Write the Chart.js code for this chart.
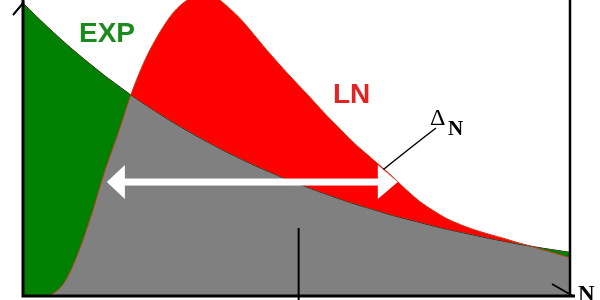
<!DOCTYPE html>
<html>
<head>
<meta charset="utf-8">
<script src="https://cdn.jsdelivr.net/npm/chart.js@4/dist/chart.umd.min.js"></script>
<style>
  body { margin: 0; background: #fff; }
  #grafico { display: block; }
</style>
</head>
<body>
<canvas id="grafico" width="600" height="300"></canvas>
<script>
// valores (x de 0 a 100, y de 0 a 100)
var posiciones = [0, 2.5, 5, 7.5, 10, 12.5, 15, 17.5, 20, 22.5, 25, 27.5, 30, 32.5, 35, 37.5, 40,
    42.5, 45, 47.5, 50, 52.5, 55, 57.5, 60, 62.5, 65, 67.5, 70, 72.5, 75, 77.5, 80,
    82.5, 85, 87.5, 90, 92.5, 95, 97.5, 100];

var valoresEXP = [99, 94.4, 90, 85.8, 81.8, 78, 74.3, 70.9, 67.5, 64.4, 61.4, 58.5, 55.8, 53.2, 50.7,
    48.3, 46.1, 43.9, 41.9, 39.9, 38.1, 36.3, 34.6, 33, 31.4, 30, 28.6, 27.2, 26, 24.8,
    23.6, 22.5, 21.5, 20.5, 19.5, 18.6, 17.7, 16.9, 16.1, 15.4, 14.7];

var valoresLN = [0, 0, 0.3, 4.4, 14.2, 27.4, 42.6, 55.7, 69.6, 80.7, 89.2, 95.9, 100, 101.5, 101,
    97.5, 93, 87.5, 82, 76.8, 71.8, 66.9, 61.8, 57.1, 52.4, 48.3, 44.3, 40.2, 35.8, 31.8,
    28.7, 26, 24, 22.3, 20.9, 19.6, 18.2, 16.9, 15.5, 14.2, 12.8];

function puntos(valores) {
    return posiciones.map(function (x, i) { return { x: x, y: valores[i] }; });
}

// flecha blanca, linea vertical y etiquetas
var dibujoExtra = {
    id: 'dibujoExtra',
    afterDraw: function (chart) {
        var ctx = chart.ctx;
        var a = chart.chartArea;
        var sx = chart.scales.x, sy = chart.scales.y;
        ctx.save();

        // ejes
        ctx.strokeStyle = '#000';
        ctx.lineWidth = 3;
        ctx.beginPath();
        ctx.moveTo(a.left, 0);
        ctx.lineTo(a.left, a.bottom);
        ctx.lineTo(a.right + 4, a.bottom);
        ctx.stroke();
        ctx.lineWidth = 2.5;
        ctx.beginPath();
        ctx.moveTo(a.right - 1, 0);
        ctx.lineTo(a.right - 1, a.bottom);
        ctx.stroke();
        ctx.lineWidth = 2;
        ctx.beginPath();
        ctx.moveTo(13, 15);
        ctx.lineTo(a.left + 1, 2);
        ctx.moveTo(552, 284);
        ctx.lineTo(a.right + 2, a.bottom);
        ctx.stroke();

        // linea vertical
        var xv = sx.getPixelForValue(50.3);
        ctx.lineWidth = 2;
        ctx.beginPath();
        ctx.moveTo(xv, 228);
        ctx.lineTo(xv, 300);
        ctx.stroke();

        // linea hacia Delta N
        ctx.lineWidth = 1.5;
        ctx.beginPath();
        ctx.moveTo(379, 173);
        ctx.quadraticCurveTo(410, 148, 436, 128);
        ctx.stroke();

        // flecha doble blanca
        var x1 = sx.getPixelForValue(15.3), x2 = sx.getPixelForValue(68.4);
        var yf = sy.getPixelForValue(38.5);
        ctx.fillStyle = '#fff';
        ctx.fillRect(x1 + 10, yf - 3.5, x2 - x1 - 20, 7);
        ctx.beginPath();
        ctx.moveTo(x1, yf);
        ctx.lineTo(x1 + 18, yf - 17);
        ctx.lineTo(x1 + 18, yf + 17);
        ctx.closePath();
        ctx.fill();
        ctx.beginPath();
        ctx.moveTo(x2, yf);
        ctx.lineTo(x2 - 20, yf - 17);
        ctx.lineTo(x2 - 20, yf + 17);
        ctx.closePath();
        ctx.fill();

        // textos
        ctx.textBaseline = 'alphabetic';
        ctx.font = 'bold 28px "Liberation Sans", Arial, sans-serif';
        ctx.fillStyle = '#1c8a1c';
        ctx.fillText('EXP', 79, 42);
        ctx.fillStyle = '#e32322';
        ctx.fillText('LN', 333, 103);

        ctx.fillStyle = '#000';
        ctx.font = '24px "Liberation Serif", "Times New Roman", serif';
        ctx.fillText('\u0394', 430, 125);
        ctx.font = 'bold 21px "Liberation Serif", "Times New Roman", serif';
        ctx.fillText('N', 448, 135);
        ctx.font = 'bold 23px "Liberation Serif", "Times New Roman", serif';
        ctx.fillText('N', 578, 301);
        ctx.restore();
    }
};

new Chart(document.getElementById('grafico'), {
    type: 'line',
    data: {
        datasets: [{
            label: 'LN',
            data: puntos(valoresLN),
            borderColor: '#c0401c',
            borderWidth: 1,
            pointRadius: 0,
            tension: 0.3,
            fill: { target: 1, above: '#ff0000', below: '#008000' }
        }, {
            label: 'EXP',
            data: puntos(valoresEXP),
            borderColor: '#222',
            borderWidth: 1,
            pointRadius: 0,
            tension: 0.3,
            fill: { target: 'origin', above: '#808080' }
        }]
    },
    options: {
        responsive: false,
        animation: false,
        layout: { padding: { left: 23, right: 29, top: 0, bottom: 4 } },
        plugins: { legend: { display: false }, tooltip: { enabled: false } },
        scales: {
            x: { type: 'linear', min: 0, max: 100, display: false },
            y: { min: 0, max: 100, display: false }
        }
    },
    plugins: [dibujoExtra]
});
</script>
</body>
</html>
